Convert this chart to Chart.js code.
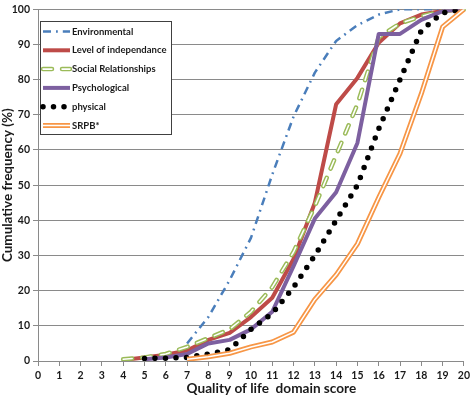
<!DOCTYPE html>
<html>
<head>
<meta charset="utf-8">
<script src="https://cdn.jsdelivr.net/npm/chart.js@4.4.0/dist/chart.umd.min.js"></script>
<style>
  body { margin: 0; background: #fff; }
</style>
</head>
<body>
<canvas id="qolChart" width="473" height="405"></canvas>
<script>
// quality of life domain scores 0..20
const scores = [0, 1, 2, 3, 4, 5, 6, 7, 8, 9, 10, 11, 12, 13, 14, 15, 16, 17, 18, 19, 20];

// cumulative frequency (%) per score, null where the curve has not started
const environmental = [null, null, null, null, null, null, null, 5, 12.5, 23, 35, 53, 69.5, 82, 91, 95.5, 98.5, 100, 100, 100, 100];
const independence  = [null, null, null, null, 0.3, 1, 1.8, 3, 6, 8, 12.5, 18, 29, 45, 73, 80.5, 90.5, 96, 98.5, 99.5, 100];
const social        = [null, null, null, null, 0.5, 1, 2, 4, 6.5, 9, 14, 21, 31, 44, 58.5, 73, 92, 96, 98, 99.5, 100];
const psychological = [null, null, null, null, null, 0.5, 1, 2, 5, 6, 9, 14, 27, 40.5, 48, 62, 93, 93, 97, 99.5, 100];
const physical      = [null, null, null, null, null, 0.7, 0.8, 1, 2, 3.2, 9, 13.5, 21, 30, 40, 50, 66, 80, 94, 99, 100];
const srpb          = [null, null, null, null, null, null, null, 0.5, 1.2, 2.2, 4, 5.4, 8.2, 17.5, 24.5, 33.3, 46.5, 59, 76, 95, 100];

const yTicks = [0, 10, 20, 30, 40, 50, 60, 70, 80, 90, 100];

const GRID = '#8a8a8a';
const TEXT = '#1a1a1a';
const FONT = 'Lato, "Open Sans", sans-serif';
const X_TITLE = 'Quality of life  domain score';

// each series is drawn as one or more strokes (double lines = wide colour + thin white)
const series = [
    { label: 'Environmental', data: environmental,
      strokes: [{ color: '#4a7ebb', width: 2.5, dash: [8, 5, 1.8, 5], cap: 'butt' }] },
    { label: 'Level of independance', data: independence,
      strokes: [{ color: '#be4b48', width: 4 }] },
    { label: 'Social Relationships', data: social,
      strokes: [{ color: '#9bbb59', width: 4.5, dash: [9, 10], cap: 'round' },
                { color: '#ffffff', width: 1.6, dash: [9, 10], cap: 'round' }] },
    { label: 'Psychological', data: psychological,
      strokes: [{ color: '#7d60a0', width: 4 }] },
    { label: 'physical', data: physical,
      strokes: [{ color: '#000000', width: 5.5, dash: [0, 10.5], cap: 'round' }] },
    { label: 'SRPB*', data: srpb,
      strokes: [{ color: '#f79646', width: 5 },
                { color: '#ffffff', width: 1.5 }] }
];

const datasets = [];
series.forEach((s, i) => {
    s.strokes.forEach((st, j) => {
        datasets.push({
            label: s.label,
            data: s.data,
            borderColor: st.color,
            borderWidth: st.width,
            borderDash: st.dash || [],
            borderCapStyle: st.cap || 'butt',
            borderJoinStyle: 'round',
            pointRadius: 0,
            tension: 0,
            fill: false,
            order: (series.length - i) * 10 - j
        });
    });
});

function drawSample(ctx, strokes, x0, x1, y) {
    strokes.forEach(st => {
        ctx.save();
        ctx.strokeStyle = st.color;
        ctx.lineWidth = st.width;
        ctx.lineCap = st.cap || 'butt';
        ctx.setLineDash(st.dash || []);
        ctx.beginPath();
        ctx.moveTo(x0, y);
        ctx.lineTo(x1, y);
        ctx.stroke();
        ctx.restore();
    });
}

// legend box sitting inside the plot, top left, plus the x title (sits right of centre)
const boxLegend = {
    id: 'boxLegend',
    afterDraw(chart) {
        const ctx = chart.ctx;
        const left = chart.chartArea.left + 2;
        const top = 21;
        const w = 131, h = 113;
        ctx.save();
        ctx.fillStyle = '#ffffff';
        ctx.fillRect(left, top, w, h);
        ctx.strokeStyle = '#404040';
        ctx.lineWidth = 1;
        ctx.strokeRect(left + 0.5, top + 0.5, w, h);
        ctx.font = 'bold 9.5px ' + FONT;
        ctx.fillStyle = TEXT;
        ctx.textBaseline = 'middle';
        series.forEach((s, i) => {
            const y = top + 10.5 + i * 18.8;
            drawSample(ctx, s.strokes, left + 3, left + 30, y);
            ctx.fillText(s.label, left + 32, y);
        });

        // size the title so it spans about 170px like the original
        ctx.font = 'bold 14px ' + FONT;
        let size = 14 * 170 / ctx.measureText(X_TITLE).width;
        ctx.font = 'bold ' + size.toFixed(1) + 'px ' + FONT;
        ctx.textAlign = 'center';
        ctx.textBaseline = 'alphabetic';
        ctx.fillText(X_TITLE, chart.chartArea.left + chart.chartArea.width * 0.548, 393);
        ctx.restore();
    }
};

new Chart(document.getElementById('qolChart'), {
    type: 'line',
    data: { labels: scores, datasets: datasets },
    plugins: [boxLegend],
    options: {
        responsive: false,
        animation: false,
        layout: { padding: { top: 3, right: 6, left: 0, bottom: 0 } },
        plugins: {
            legend: { display: false },
            tooltip: { enabled: false }
        },
        scales: {
            x: {
                offset: false,
                afterFit: scale => { scale.height = 44; },
                grid: { drawOnChartArea: false, drawTicks: true, tickLength: 5, color: GRID },
                border: { display: true, color: GRID },
                ticks: { color: TEXT, padding: 3, maxRotation: 0, autoSkip: false,
                         font: { family: FONT, size: 10.5, weight: 'bold' } },
                title: { display: false }
            },
            y: {
                min: 0,
                max: 100,
                afterFit: scale => { scale.width = 38; },
                afterBuildTicks: scale => { scale.ticks = yTicks.map(v => ({ value: v })); },
                grid: { color: GRID, tickLength: 5 },
                border: { display: true, color: GRID },
                ticks: { color: TEXT, padding: 3,
                         font: { family: FONT, size: 10.5, weight: 'bold' } },
                title: { display: true, text: 'Cumulative frequency (%)', color: TEXT,
                         padding: { top: 0, bottom: 0 },
                         font: { family: FONT, size: 13.5, weight: 'bold' } }
            }
        }
    }
});
</script>
</body>
</html>
